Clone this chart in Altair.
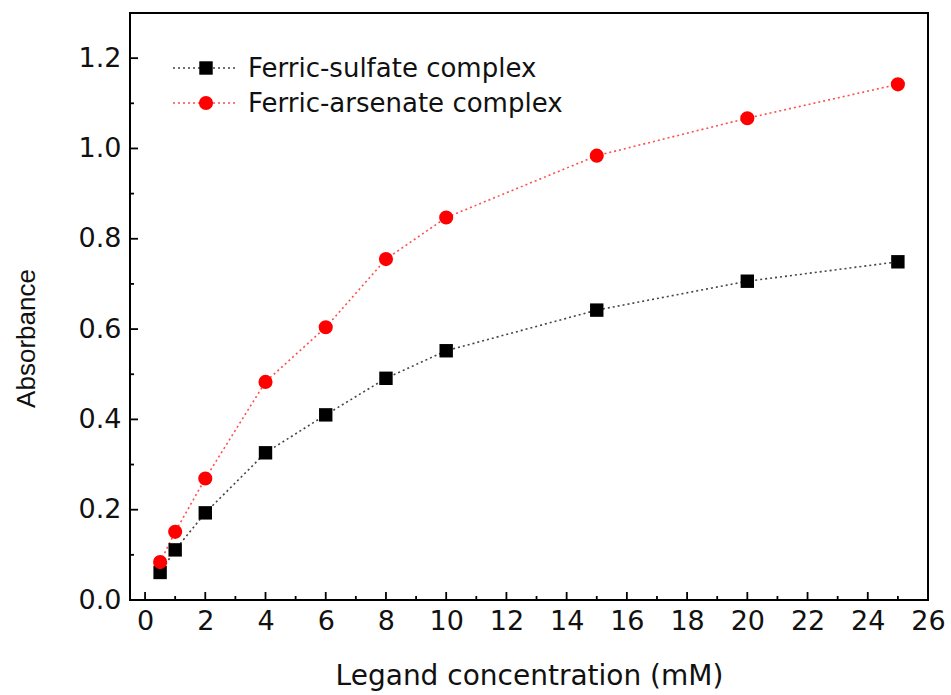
import altair as alt
import pandas as pd

# ---- data ----
conc = [0.5, 1, 2, 4, 6, 8, 10, 15, 20, 25]
sulfate = [0.061, 0.111, 0.193, 0.326, 0.410, 0.491, 0.552, 0.642, 0.706, 0.749]
arsenate = [0.084, 0.151, 0.269, 0.483, 0.604, 0.755, 0.847, 0.984, 1.067, 1.142]
series_names = ["Ferric-sulfate complex", "Ferric-arsenate complex"]
x_major = list(range(0, 27, 2))
x_minor = list(range(1, 26, 2))
y_major = [0.0, 0.2, 0.4, 0.6, 0.8, 1.0, 1.2]
y_minor = [0.1, 0.3, 0.5, 0.7, 0.9, 1.1]

FONT = "DejaVu Sans"
FONT_V = "Liberation Sans"
W, H = 798, 587

df = pd.DataFrame({
    "conc": conc * 2,
    "abs": sulfate + arsenate,
    "series": [series_names[0]] * len(conc) + [series_names[1]] * len(conc),
})
df_s = df[df.series == series_names[0]]
df_a = df[df.series == series_names[1]]

xs = alt.Scale(domain=[-0.5, 26], nice=False, zero=False)
ys = alt.Scale(domain=[0, 1.3], nice=False, zero=False)

X = alt.X("conc:Q", scale=xs, axis=alt.Axis(
    values=x_major, title="Legand concentration (mM)", grid=False, ticks=False, tickSize=0,
    domain=False, labelFontSize=27, labelFont=FONT, labelColor="#111", labelPadding=8,
    titleFontSize=28, titleFont=FONT, titleFontWeight="normal", titleColor="#111",
    titleBaseline="alphabetic", titleY=84, labelFlush=False))
Y = alt.Y("abs:Q", scale=ys, axis=alt.Axis(
    values=y_major, format=".1f", title="Absorbance", grid=False, ticks=False, tickSize=0,
    domain=False, labelFontSize=27, labelFont=FONT, labelColor="#111", labelPadding=9,
    titleFontSize=26, titleFont=FONT_V, titleFontWeight="normal", titleColor="#111",
    titleBaseline="alphabetic", titleX=-96, titleY=325, titleAngle=-90, labelFlush=False))

line_s = alt.Chart(df_s).mark_line(color="#444", strokeDash=[2, 3], strokeWidth=1.6).encode(x=X, y=Y)
line_a = alt.Chart(df_a).mark_line(color="#ff4d4d", strokeDash=[2, 3], strokeWidth=1.6).encode(x=X, y=Y)
pts_s = alt.Chart(df_s).mark_point(shape="square", filled=True, color="black", size=180, opacity=1).encode(x=X, y=Y)
pts_a = alt.Chart(df_a).mark_point(shape="circle", filled=True, color="#ff0000", size=200, opacity=1).encode(x=X, y=Y)

# inward ticks
def xticks(vals, length):
    d = pd.DataFrame({"t": vals})
    return alt.Chart(d).mark_rule(color="black", strokeWidth=1.8).encode(
        x=alt.X("t:Q", scale=xs), y=alt.value(H), y2=alt.value(H - length))

def yticks(vals, length):
    d = pd.DataFrame({"t": vals})
    return alt.Chart(d).mark_rule(color="black", strokeWidth=1.8).encode(
        y=alt.Y("t:Q", scale=ys), x=alt.value(0), x2=alt.value(length))

ticks = [xticks(x_major, 8), xticks(x_minor, 4), yticks(y_major, 8), yticks(y_minor, 4)]

# legend
legend_layers = []
leg_rows = [55, 90]
leg_style = [("#444", "square", "black", 180), ("#ff4d4d", "circle", "#ff0000", 200)]
for name, ry, (lc, shp, mc, sz) in zip(series_names, leg_rows, leg_style):
    ld = pd.DataFrame({"label": [name]})
    legend_layers.append(alt.Chart(ld).mark_rule(color=lc, strokeDash=[2, 3], strokeWidth=1.6).encode(
        x=alt.value(43), x2=alt.value(105), y=alt.value(ry)))
    legend_layers.append(alt.Chart(ld).mark_point(shape=shp, filled=True, color=mc, size=sz, opacity=1).encode(
        x=alt.value(76), y=alt.value(ry)))
    legend_layers.append(alt.Chart(ld).mark_text(align="left", baseline="middle", font=FONT, fontSize=26,
                                                 color="#111").encode(
        x=alt.value(118), y=alt.value(ry + 1), text="label:N"))

chart = alt.layer(line_s, line_a, pts_s, pts_a, *ticks, *legend_layers).properties(
    width=W, height=H,
    padding={"left": 130, "top": 13, "right": 23, "bottom": 95},
    autosize=alt.AutoSizeParams(type="none"),
    background="white",
).configure_view(stroke="black", strokeWidth=2)

chart.save("out.html", embed_options={"renderer": "svg", "actions": False})
